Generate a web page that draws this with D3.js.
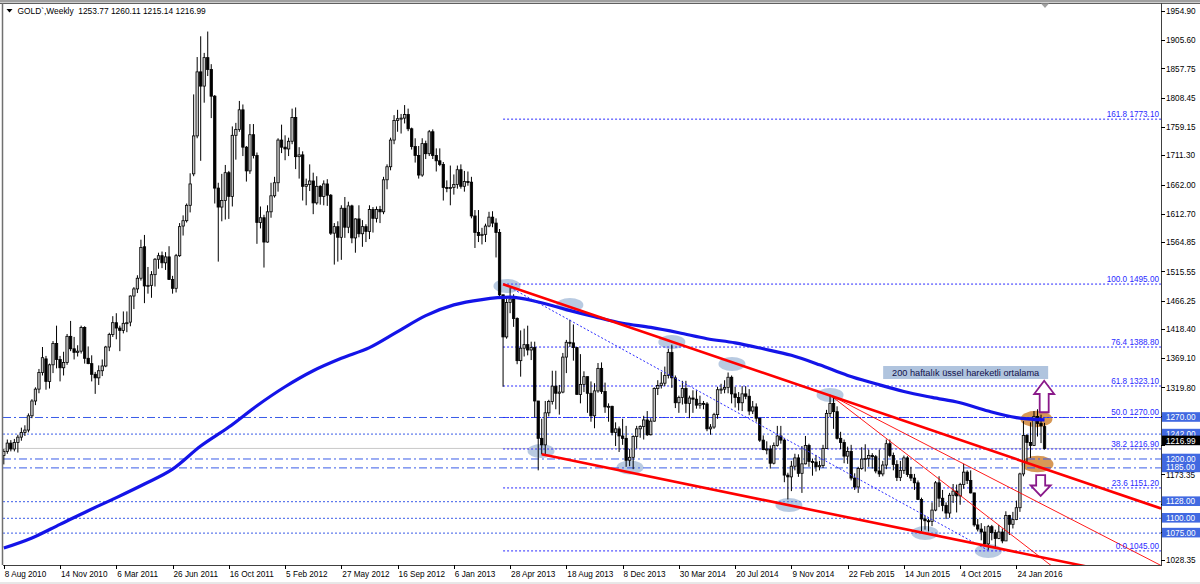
<!DOCTYPE html>
<html><head><meta charset="utf-8">
<script src="https://cdn.jsdelivr.net/npm/d3@7"></script>
<style>
body{margin:0;background:#fff}
svg{display:block}
text{font-family:"Liberation Sans",Arial,sans-serif}
</style>
</head><body>
<svg id="c" width="1200" height="584"></svg>
<script>
// ---------- DATA ----------
const symbolTitle = "GOLD`,Weekly  1253.77 1260.11 1215.14 1216.99";

const opens = [1205,1212,1226,1216,1227,1236,1244,1248,1272,1297,1317,1345,1368,1330,1358,1394,1367,1353,1362,1406,1385,1379,1381,1421,1369,1360,1342,1336,1348,1356,1388,1409,1429,1420,1416,1428,1430,1474,1486,1504,1557,1491,1492,1510,1536,1542,1530,1540,1502,1487,1542,1592,1601,1627,1680,1744,1852,1828,1876,1856,1811,1656,1624,1635,1682,1642,1745,1755,1788,1725,1685,1746,1711,1598,1606,1565,1616,1643,1665,1737,1725,1722,1735,1775,1709,1712,1659,1662,1668,1631,1659,1642,1663,1644,1580,1591,1573,1622,1590,1626,1572,1604,1579,1591,1583,1620,1605,1620,1616,1670,1692,1737,1770,1773,1774,1780,1756,1726,1711,1678,1731,1714,1751,1711,1702,1696,1657,1656,1657,1662,1687,1659,1667,1666,1609,1581,1576,1578,1592,1607,1597,1581,1476,1405,1463,1469,1436,1365,1386,1392,1383,1387,1297,1234,1223,1277,1296,1322,1310,1312,1371,1396,1395,1387,1308,1325,1338,1310,1272,1314,1352,1313,1287,1288,1244,1250,1238,1234,1197,1202,1237,1250,1254,1265,1240,1263,1318,1323,1327,1340,1379,1336,1294,1303,1318,1293,1302,1300,1290,1293,1292,1250,1253,1274,1316,1317,1320,1337,1309,1303,1294,1309,1305,1280,1287,1268,1231,1215,1216,1192,1222,1238,1231,1172,1169,1187,1201,1175,1191,1222,1195,1194,1186,1188,1217,1276,1293,1279,1234,1227,1204,1212,1167,1152,1183,1199,1200,1205,1203,1179,1174,1189,1225,1205,1190,1168,1180,1201,1173,1167,1159,1131,1098,1095,1094,1113,1159,1133,1121,1108,1138,1145,1137,1156,1177,1163,1142,1088,1081,1076,1056,1085,1075,1065,1076,1061,1104,1089,1097,1117,1174,1239,1227,1222,1271,1259,1253.77];
const highs = [1216,1232,1231,1233,1240,1252,1256,1276,1300,1320,1351,1388,1373,1360,1398,1424,1373,1380,1410,1432,1405,1391,1424,1423,1389,1374,1346,1357,1367,1390,1412,1440,1445,1424,1448,1448,1475,1489,1509,1569,1577,1523,1516,1538,1547,1549,1548,1558,1508,1545,1597,1610,1630,1681,1814,1877,1912,1884,1920,1865,1813,1665,1680,1695,1685,1760,1766,1803,1797,1727,1764,1764,1716,1625,1611,1627,1665,1675,1740,1763,1745,1741,1790,1792,1725,1718,1672,1696,1682,1676,1661,1669,1671,1646,1597,1600,1627,1641,1633,1628,1605,1627,1602,1595,1627,1624,1625,1626,1675,1696,1741,1779,1788,1781,1796,1790,1758,1740,1727,1740,1736,1754,1755,1723,1723,1700,1669,1694,1679,1694,1696,1685,1684,1675,1619,1619,1589,1596,1616,1617,1605,1587,1476,1470,1488,1477,1438,1416,1419,1424,1397,1397,1297,1267,1297,1299,1348,1348,1324,1378,1400,1434,1426,1388,1376,1347,1338,1330,1327,1361,1362,1328,1293,1289,1261,1254,1267,1255,1216,1239,1255,1256,1272,1280,1268,1320,1332,1346,1355,1385,1392,1340,1306,1331,1331,1306,1315,1315,1306,1297,1295,1258,1277,1321,1326,1332,1345,1340,1321,1312,1322,1322,1317,1297,1293,1268,1239,1229,1222,1227,1255,1255,1234,1176,1196,1208,1207,1221,1238,1225,1200,1206,1196,1223,1282,1307,1305,1288,1245,1232,1220,1223,1175,1186,1219,1224,1215,1209,1206,1215,1196,1232,1232,1210,1197,1196,1205,1204,1186,1174,1163,1134,1104,1098,1126,1162,1170,1147,1126,1142,1157,1156,1159,1191,1180,1180,1142,1098,1091,1086,1088,1088,1080,1088,1082,1111,1105,1110,1129,1176,1263,1241,1261,1280,1283,1274,1260.11];
const lows = [1190,1208,1212,1212,1210,1230,1238,1244,1268,1290,1310,1340,1316,1318,1344,1352,1330,1340,1358,1381,1367,1372,1377,1360,1359,1330,1309,1324,1339,1354,1381,1405,1401,1381,1411,1413,1423,1452,1479,1500,1462,1478,1471,1490,1520,1521,1518,1501,1478,1480,1540,1576,1598,1615,1676,1740,1702,1800,1845,1774,1630,1532,1600,1603,1604,1625,1704,1751,1710,1667,1680,1706,1562,1588,1522,1564,1606,1640,1650,1715,1703,1710,1730,1688,1672,1635,1627,1651,1612,1628,1628,1627,1626,1577,1527,1532,1535,1572,1580,1563,1547,1573,1557,1565,1570,1581,1598,1597,1612,1654,1686,1730,1751,1748,1765,1752,1721,1699,1672,1675,1705,1710,1705,1684,1693,1635,1649,1627,1645,1655,1655,1650,1660,1605,1555,1565,1561,1565,1590,1590,1539,1473,1321,1402,1445,1422,1359,1338,1372,1374,1366,1269,1180,1207,1207,1271,1291,1283,1274,1310,1344,1388,1365,1308,1293,1312,1277,1262,1251,1311,1309,1277,1262,1239,1221,1211,1223,1186,1187,1182,1217,1235,1232,1238,1239,1262,1307,1318,1322,1335,1319,1285,1277,1291,1277,1268,1277,1284,1284,1283,1246,1240,1250,1267,1309,1310,1310,1293,1286,1281,1280,1300,1273,1275,1262,1228,1214,1207,1183,1190,1220,1225,1160,1131,1145,1180,1169,1142,1190,1186,1171,1178,1180,1184,1216,1270,1250,1232,1216,1192,1191,1163,1147,1142,1181,1178,1186,1183,1175,1169,1170,1182,1202,1180,1162,1162,1174,1169,1162,1147,1130,1077,1080,1077,1086,1111,1118,1111,1098,1100,1125,1109,1122,1149,1157,1141,1085,1077,1062,1052,1046,1062,1049,1064,1057,1061,1071,1082,1096,1110,1170,1191,1201,1221,1237,1226,1215.14];
const closes = [1212,1226,1216,1227,1236,1244,1248,1272,1297,1317,1345,1370,1330,1358,1394,1367,1353,1362,1406,1385,1379,1381,1421,1369,1360,1342,1336,1348,1356,1388,1409,1429,1420,1416,1428,1429,1474,1486,1504,1556,1491,1492,1510,1536,1542,1530,1540,1502,1487,1542,1591,1601,1627,1663,1744,1852,1828,1876,1856,1811,1656,1624,1635,1682,1642,1745,1755,1788,1725,1685,1746,1711,1598,1606,1565,1616,1643,1665,1737,1725,1722,1735,1775,1709,1712,1659,1662,1668,1631,1659,1642,1663,1644,1580,1591,1573,1622,1590,1626,1572,1604,1579,1591,1583,1620,1605,1620,1616,1670,1692,1737,1770,1773,1774,1780,1756,1726,1711,1678,1731,1714,1751,1711,1702,1696,1657,1656,1657,1662,1687,1659,1667,1666,1609,1581,1576,1578,1592,1607,1597,1581,1476,1405,1463,1469,1436,1365,1386,1392,1383,1387,1297,1234,1223,1277,1296,1322,1310,1312,1371,1396,1395,1387,1308,1325,1338,1310,1272,1314,1352,1313,1287,1288,1244,1250,1238,1234,1197,1202,1237,1250,1254,1265,1240,1263,1318,1323,1327,1340,1379,1336,1294,1303,1318,1293,1302,1300,1290,1293,1292,1250,1253,1274,1316,1317,1320,1337,1309,1303,1294,1309,1305,1280,1287,1268,1231,1215,1216,1192,1222,1238,1231,1172,1169,1187,1201,1175,1191,1222,1195,1194,1186,1188,1217,1276,1293,1279,1234,1227,1204,1212,1167,1152,1183,1199,1200,1205,1203,1179,1174,1189,1225,1205,1190,1168,1180,1201,1173,1167,1159,1131,1098,1095,1094,1113,1159,1133,1121,1108,1138,1145,1137,1156,1177,1163,1142,1088,1081,1076,1056,1085,1075,1065,1076,1061,1104,1089,1097,1117,1174,1239,1227,1222,1271,1259,1255,1216.99];

// 200-week EMA, every 8 bars
const emaBars = [0,8,16,24,32,40,48,56,64,72,80,88,96,104,112,120,128,136,144,152,160,168,176,184,192,200,208,216,224,232,240,248,256,264,272,280,288,296];
const emaValues = [1049,1066,1089,1112,1134,1157,1182,1221,1253,1289,1321,1348,1369,1387,1414,1441,1459,1468,1472,1464,1451,1439,1428,1421,1412,1402,1395,1385,1374,1358,1340,1326,1313,1303,1294,1280,1269,1265];

const dateLabels = ["8 Aug 2010","14 Nov 2010","6 Mar 2011","26 Jun 2011","16 Oct 2011","5 Feb 2012","27 May 2012","16 Sep 2012","6 Jan 2013","28 Apr 2013","18 Aug 2013","8 Dec 2013","30 Mar 2014","20 Jul 2014","9 Nov 2014","22 Feb 2015","14 Jun 2015","4 Oct 2015","24 Jan 2016"];
const barsPerDateLabel = 16;

// price scale ticks; the labelled ones are those not hidden by the price boxes
const priceTicks = [1954.90,1905.60,1857.75,1808.45,1759.15,1711.30,1662.00,1612.70,1564.85,1515.55,1466.25,1418.40,1369.10,1319.80,1271.95,1222.65,1173.35,1124.05,1076.20,1028.35];
const priceTickLabels = [1954.90,1905.60,1857.75,1808.45,1759.15,1711.30,1662.00,1612.70,1564.85,1515.55,1466.25,1418.40,1369.10,1319.80,1173.35,1028.35];

const fibRatios = ["161.8","100.0","76.4","61.8","50.0","38.2","23.6","0.0"];
const fibPrices = [1773.10,1495.00,1388.80,1323.10,1270.00,1216.90,1151.20,1045.00];
const fibAnchor = {bar1:142, price1:1495, bar2:280, price2:1045};

const hLinePrices = [1270,1242,1200,1185,1128,1100,1075];
const hLineKinds  = ["dashdot","dot","dashdot","dashdot","dot","dot","dot"];
const bidPrice = 1216.99;

// trend lines: [bar1, price1, bar2, price2]
const thickTrends = [[142,1494,235,1306],[153,1207,280,1052]];
const thinTrends  = [[235,1307,300,1108.5],[235,1307,270,1147]];

// marked swing points (bar, price)
const blueMarks = [[143.1,1491],[161,1459],[190,1396.5],[207.1,1359.4],[152.8,1212.7],[178.1,1184.8],[223.3,1121.6],[235,1307],[262,1074.4],[280,1044]];
const orangeMarks = [[293.7,1266.6],[294,1190.7]];
const upArrow = {bar:295.9, top:1331, bottom:1278};
const downArrow = {bar:294.9, top:1172, bottom:1137};
const noteText = "200 haftalık üssel hareketli ortalama";
const noteAnchor = {bar:250.1, price:1345};

// ---------- DRAW ----------
const svg = d3.select("#c");
const L = 3, R = 1161, T = 4, B = 565;
const x = d3.scaleLinear().domain([0,296]).range([3.8, 3.8 + 296*3.516]);
const y = d3.scaleLinear().domain([1020.4,1959.7]).range([B, 8]);

svg.append("rect").attr("width",1200).attr("height",584).attr("fill","#fff");
svg.append("defs").append("clipPath").attr("id","clip")
  .append("rect").attr("x",L).attr("y",T).attr("width",R-L).attr("height",B-T);

const g = svg.append("g").attr("clip-path","url(#clip)");

// ellipses (background objects)
g.selectAll(".bm").data(blueMarks).join("ellipse")
  .attr("cx",d=>x(d[0])).attr("cy",d=>y(d[1])).attr("rx",13.5).attr("ry",7)
  .attr("fill","#b0c4de").attr("opacity",0.9);
g.selectAll(".om").data(orangeMarks).join("ellipse")
  .attr("cx",d=>x(d[0])).attr("cy",d=>y(d[1])).attr("rx",16).attr("ry",8.3)
  .attr("fill","#d48f48").attr("opacity",0.92);

// note box
const nbx = x(noteAnchor.bar), nby = y(noteAnchor.price);
g.append("rect").attr("x",nbx).attr("y",nby-6.5).attr("width",165).attr("height",13).attr("fill","#b0c4de");
g.append("text").attr("x",nbx+82.5).attr("y",nby+3.2).attr("text-anchor","middle")
  .attr("font-size",9.2).attr("fill","#10104a").text(noteText);

// horizontal lines
const dash = {dot:"2,2", dashdot:"8,3,2,3"};
g.selectAll(".hl").data(hLinePrices).join("line")
  .attr("x1",L).attr("x2",R).attr("y1",d=>y(d)+0.5).attr("y2",d=>y(d)+0.5)
  .attr("stroke","#3a5ce8").attr("stroke-width",1)
  .attr("stroke-dasharray",(d,i)=>dash[hLineKinds[i]]);
// bid line
g.append("line").attr("x1",L).attr("x2",R).attr("y1",y(bidPrice)).attr("y2",y(bidPrice))
  .attr("stroke","#c8c8c8").attr("stroke-width",1);

// fib levels
g.selectAll(".fl").data(fibPrices).join("line")
  .attr("x1",x(fibAnchor.bar1)).attr("x2",R).attr("y1",d=>y(d)+0.5).attr("y2",d=>y(d)+0.5)
  .attr("stroke","#2a2aff").attr("stroke-width",1).attr("stroke-dasharray","2,2");

// candles
const idx = d3.range(opens.length);
const cg = g.append("g");
cg.selectAll(".w").data(idx).join("line")
  .attr("x1",i=>x(i)).attr("x2",i=>x(i)).attr("y1",i=>y(highs[i])).attr("y2",i=>y(lows[i]))
  .attr("stroke","#000").attr("stroke-width",1);
cg.selectAll(".b").data(idx).join("rect")
  .attr("x",i=>x(i)-1.2).attr("width",2.4)
  .attr("y",i=>y(Math.max(opens[i],closes[i])))
  .attr("height",i=>Math.max(1,Math.abs(y(opens[i])-y(closes[i]))))
  .attr("fill",i=>closes[i]>=opens[i]?"#c4c4c4":"#000")
  .attr("stroke","#000").attr("stroke-width",0.8);

// EMA
const emaLine = d3.line().x((d,i)=>x(emaBars[i])).y(d=>y(d)).curve(d3.curveMonotoneX);
g.append("path").attr("d",emaLine(emaValues)).attr("fill","none")
  .attr("stroke","#1414e8").attr("stroke-width",3.2).attr("stroke-linejoin","round");

// fib diagonal
g.append("line").attr("x1",x(fibAnchor.bar1)).attr("y1",y(fibAnchor.price1))
  .attr("x2",x(fibAnchor.bar2)).attr("y2",y(fibAnchor.price2))
  .attr("stroke","#2a2aff").attr("stroke-width",1).attr("stroke-dasharray","2,2");

// trend rays
const endBar = x.invert(R);
function ray(t){ const s=(t[3]-t[1])/(t[2]-t[0]); return [[t[0],t[1]],[endBar, t[1]+s*(endBar-t[0])]]; }
const rl = d3.line().x(d=>x(d[0])).y(d=>y(d[1]));
thinTrends.forEach(t=>g.append("path").attr("d",rl(ray(t))).attr("stroke","#ff0000").attr("stroke-width",0.9).attr("fill","none"));
thickTrends.forEach(t=>g.append("path").attr("d",rl(ray(t))).attr("stroke","#ff0000").attr("stroke-width",2.6).attr("fill","none"));

// arrows
function arrowUp(a){
  const cx=x(a.bar), t=y(a.top), b=y(a.bottom), hb=t+(b-t)*0.42;
  return `M${cx},${t} L${cx+10},${hb} L${cx+4.5},${hb} L${cx+4.5},${b} L${cx-4.5},${b} L${cx-4.5},${hb} L${cx-10},${hb} Z`;
}
function arrowDown(a){
  const cx=x(a.bar), t=y(a.top), b=y(a.bottom), hb=t+(b-t)*0.5;
  return `M${cx-4.5},${t} L${cx+4.5},${t} L${cx+4.5},${hb} L${cx+10},${hb} L${cx},${b} L${cx-10},${hb} L${cx-4.5},${hb} Z`;
}
g.append("path").attr("d",arrowUp(upArrow)).attr("fill","#fff").attr("stroke","#8a1a8a").attr("stroke-width",1.8);
g.append("path").attr("d",arrowDown(downArrow)).attr("fill","#fff").attr("stroke","#8a1a8a").attr("stroke-width",1.8);

// fib labels
g.selectAll(".ft").data(fibPrices).join("text")
  .attr("x",R-2).attr("y",d=>y(d)-1.5).attr("text-anchor","end")
  .attr("font-size",8.2).attr("fill","#2a2aff")
  .text((d,i)=>fibRatios[i]+" "+d.toFixed(2));

// ---------- frame & axes ----------
svg.append("rect").attr("x",0).attr("y",0).attr("width",1200).attr("height",2.5).attr("fill","#a0a0a0");
svg.append("line").attr("x1",0).attr("x2",1200).attr("y1",3.5).attr("y2",3.5).attr("stroke","#606060");
svg.append("line").attr("x1",2.5).attr("x2",2.5).attr("y1",3).attr("y2",B).attr("stroke","#707070").attr("stroke-width",1.5);
svg.append("line").attr("x1",R+0.5).attr("x2",R+0.5).attr("y1",3).attr("y2",B+1).attr("stroke","#404040");
svg.append("line").attr("x1",L).attr("x2",R+1).attr("y1",B+0.5).attr("y2",B+0.5).attr("stroke","#404040");
svg.append("line").attr("x1",0).attr("x2",1200).attr("y1",583).attr("y2",583).attr("stroke","#d0d0d0");
svg.append("path").attr("d","M1041,3.5 L1049,3.5 L1045,8 Z").attr("fill","#a0a0a0");

// price axis
const pa = svg.append("g");
pa.selectAll("line").data(priceTicks).join("line")
  .attr("x1",R).attr("x2",R+4).attr("y1",d=>Math.round(y(d))+0.5).attr("y2",d=>Math.round(y(d))+0.5)
  .attr("stroke","#000");
pa.selectAll("text").data(priceTickLabels).join("text")
  .attr("x",R+5).attr("y",d=>y(d)+3.2).attr("font-size",8.2).attr("fill","#000")
  .text(d=>d.toFixed(2));

// date axis
const dateBars = dateLabels.map((d,i)=>i*barsPerDateLabel);
const da = svg.append("g");
da.selectAll("line").data(dateBars).join("line")
  .attr("x1",d=>Math.round(x(d))+0.5).attr("x2",d=>Math.round(x(d))+0.5).attr("y1",B).attr("y2",B+4)
  .attr("stroke","#000");
da.selectAll("text").data(dateBars).join("text")
  .attr("x",d=>x(d)+1).attr("y",577).attr("font-size",8.2).attr("fill","#000")
  .text((d,i)=>dateLabels[i]);

// price boxes
const boxes = svg.append("g");
hLinePrices.forEach(p=>{
  const cy=y(p);
  boxes.append("rect").attr("x",R+1).attr("y",cy-4.8).attr("width",38).attr("height",9.6).attr("fill","#4169e1");
  boxes.append("text").attr("x",R+5).attr("y",cy+3.1).attr("font-size",8.2).attr("fill","#fff").text(p.toFixed(2));
});
{
  const cy=y(bidPrice)-8;
  boxes.append("rect").attr("x",R+1).attr("y",cy-4.8).attr("width",38).attr("height",9.6).attr("fill","#000");
  boxes.append("text").attr("x",R+5).attr("y",cy+3.1).attr("font-size",8.2).attr("fill","#fff").text(bidPrice.toFixed(2));
}

// title
svg.append("path").attr("d","M6.5,9 L12.5,9 L9.5,12.5 Z").attr("fill","#000");
svg.append("text").attr("x",17.5).attr("y",14.2).attr("font-size",8.4).attr("fill","#000")
  .attr("xml:space","preserve").style("white-space","pre").text(symbolTitle);
</script>
</body></html>
